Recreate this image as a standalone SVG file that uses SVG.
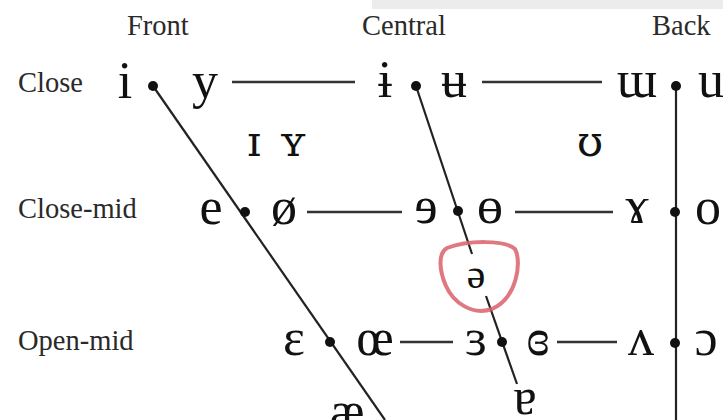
<svg xmlns="http://www.w3.org/2000/svg" width="723" height="420" viewBox="0 0 723 420">
<style>
.lab{font-family:"Liberation Serif","DejaVu Serif",serif;font-size:28.5px;fill:#2a2a2a}
.v{font-family:"Liberation Serif","DejaVu Serif",serif;font-size:52px;fill:#111;text-anchor:middle}
.dv{font-family:"DejaVu Serif","Liberation Serif",serif;font-size:42px;fill:#111;text-anchor:middle}
.sv{font-family:"Liberation Serif","DejaVu Serif",serif;font-size:42px;fill:#111;text-anchor:middle}
.ln{stroke:#222;stroke-width:2.2;fill:none}
.hl{stroke:#333;stroke-width:2.5;fill:none}
.dot{fill:#111}
</style>
<rect x="0" y="0" width="723" height="420" fill="#fff"/>
<rect x="372" y="0" width="351" height="9" fill="#ececec"/>
<g id="headers">
<text class="lab" x="127" y="35">Front</text>
<text class="lab" x="362" y="35">Central</text>
<text class="lab" x="652" y="35">Back</text>
<text class="lab" x="18" y="92">Close</text>
<text class="lab" x="18" y="218">Close-mid</text>
<text class="lab" x="18" y="350">Open-mid</text>
</g>
<g id="connectors">
<line class="hl" x1="232" y1="82" x2="355" y2="82"/>
<line class="hl" x1="482" y1="82" x2="602" y2="82"/>
<line class="hl" x1="307" y1="212" x2="402" y2="212"/>
<line class="hl" x1="515" y1="212" x2="613" y2="212"/>
<line class="hl" x1="400" y1="342" x2="453" y2="342"/>
<line class="hl" x1="557" y1="342" x2="617" y2="342"/>
<line class="ln" x1="153" y1="86" x2="385" y2="420"/>
<line class="ln" x1="416" y1="86" x2="472" y2="254"/>
<line class="ln" x1="486" y1="296" x2="517" y2="384"/>
<line class="ln" x1="676" y1="86" x2="676" y2="420"/>
</g>
<g id="dots">
<circle class="dot" cx="153" cy="86" r="5"/>
<circle class="dot" cx="416" cy="86" r="5"/>
<circle class="dot" cx="676" cy="86" r="5"/>
<circle class="dot" cx="245" cy="212" r="5"/>
<circle class="dot" cx="458" cy="211" r="5"/>
<circle class="dot" cx="675" cy="212" r="5"/>
<circle class="dot" cx="330" cy="342" r="5"/>
<circle class="dot" cx="502" cy="342" r="5"/>
<circle class="dot" cx="675" cy="343" r="5"/>
</g>
<g id="close-row">
<g id="v-i"><text class="v" x="125" y="98">i</text></g>
<g id="v-y"><text class="v" x="205" y="98">y</text></g>
<g id="v-barred-i"><text class="v" x="385" y="97">ɨ</text></g>
<g id="v-barred-u"><text class="v" x="454" y="97">ʉ</text></g>
<g id="v-turned-m"><text class="v" x="637" y="97">ɯ</text></g>
<g id="v-u"><text class="v" x="711" y="97">u</text></g>
</g>
<g id="near-close-row">
<g id="v-small-cap-i"><text class="dv" x="254" y="156">ɪ</text></g>
<g id="v-small-cap-y"><text class="dv" x="293" y="156">ʏ</text></g>
<g id="v-upsilon"><text class="dv" x="590" y="156">ʊ</text></g>
</g>
<g id="close-mid-row">
<g id="v-e"><text class="v" x="211" y="224">e</text></g>
<g id="v-o-slash"><text class="v" x="284" y="224">ø</text></g>
<g id="v-rev-e"><text class="v" x="426" y="223">ɘ</text></g>
<g id="v-barred-o"><text class="v" x="490" y="223">ɵ</text></g>
<g id="v-ram-horns"><text class="v" x="637" y="223">ɤ</text></g>
<g id="v-o"><text class="v" x="708" y="224">o</text></g>
</g>
<g id="mid-row">
<g id="v-schwa"><text class="sv" x="476" y="288">ə</text>
<path d="M447,248 C468,240 505,240 515,249 C522,262 517,298 492,309 C472,316 453,302 446,286 C439,270 438,253 447,248 Z" fill="none" stroke="#d9606a" stroke-width="4" stroke-opacity="0.85"/></g>
</g>
<g id="open-mid-row">
<g id="v-epsilon"><text class="v" x="294" y="355">ɛ</text></g>
<g id="v-oe"><text class="v" x="375" y="355">œ</text></g>
<g id="v-rev-epsilon"><text class="v" x="476" y="355">ɜ</text></g>
<g id="v-closed-rev-epsilon"><text class="v" x="538" y="355">ɞ</text></g>
<g id="v-turned-v"><text class="v" x="641" y="355">ʌ</text></g>
<g id="v-open-o"><text class="v" x="706" y="355">ɔ</text></g>
</g>
<g id="near-open-row">
<g id="v-ae"><text class="v" x="347" y="428">æ</text></g>
<g id="v-turned-a"><text class="v" x="525" y="414">ɐ</text></g>
</g>
</svg>
